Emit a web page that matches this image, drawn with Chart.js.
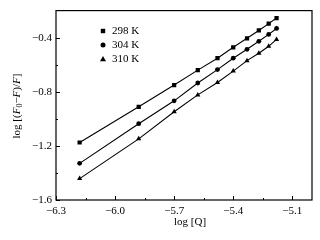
<!DOCTYPE html>
<html>
<head>
<meta charset="utf-8">
<script src="https://cdn.jsdelivr.net/npm/chart.js@4.4.0/dist/chart.umd.min.js"></script>
<style>
  html, body { margin: 0; padding: 0; background: #fff; }
  #wrap { width: 320px; height: 240px; }
</style>
</head>
<body>
<div id="wrap"><canvas id="c" width="320" height="240"></canvas></div>
<script>
// donnees
var logQ = [-6.18, -5.88, -5.70, -5.58, -5.48, -5.40, -5.33, -5.27, -5.22, -5.18];
var y298 = [-1.175, -0.911, -0.750, -0.640, -0.552, -0.471, -0.405, -0.347, -0.296, -0.255];
var y304 = [-1.329, -1.036, -0.867, -0.735, -0.636, -0.552, -0.486, -0.427, -0.376, -0.332];
var y310 = [-1.442, -1.148, -0.948, -0.823, -0.731, -0.647, -0.570, -0.515, -0.464, -0.413];
var seriesLabels = ["298 K", "304 K", "310 K"];
var xTicks = [-6.3, -6.0, -5.7, -5.4, -5.1];
var xMinor = [-6.15, -5.85, -5.55, -5.25];
var yTicks = [-1.6, -1.2, -0.8, -0.4];
var yMinor = [-1.4, -1.0, -0.6];

var police = '"Liberation Serif", "DejaVu Serif", serif';

function points(ys) {
  var res = [];
  for (var i = 0; i < logQ.length; i++) res.push({x: logQ[i], y: ys[i]});
  return res;
}

function moins(v) {
  return v.toFixed(1).replace("-", "\u2212");
}

function serie(label, ys, style, r) {
  return {
    label: label,
    data: points(ys),
    showLine: true,
    borderColor: "#000",
    backgroundColor: "#000",
    borderWidth: 1.1,
    pointStyle: style,
    pointRadius: r,
    pointBorderWidth: 0,
    tension: 0
  };
}

// cadre, graduations internes, legende et titres
var decor = {
  id: "decor",
  afterDraw: function(chart) {
    var ctx = chart.ctx;
    var a = chart.chartArea;
    var sx = chart.scales.x, sy = chart.scales.y;
    ctx.save();
    ctx.strokeStyle = "#000";
    ctx.lineWidth = 1.2;
    ctx.strokeRect(a.left, a.top, a.right - a.left, a.bottom - a.top);

    ctx.lineWidth = 1;
    ctx.beginPath();
    xTicks.forEach(function(v) {
      var p = Math.round(sx.getPixelForValue(v)) + 0.5;
      ctx.moveTo(p, a.bottom); ctx.lineTo(p, a.bottom - 4);
    });
    xMinor.forEach(function(v) {
      var p = Math.round(sx.getPixelForValue(v)) + 0.5;
      ctx.moveTo(p, a.bottom); ctx.lineTo(p, a.bottom - 2);
    });
    yTicks.forEach(function(v) {
      var p = Math.round(sy.getPixelForValue(v)) + 0.5;
      ctx.moveTo(a.left, p); ctx.lineTo(a.left + 4, p);
    });
    yMinor.forEach(function(v) {
      var p = Math.round(sy.getPixelForValue(v)) + 0.5;
      ctx.moveTo(a.left, p); ctx.lineTo(a.left + 2, p);
    });
    ctx.stroke();

    // legende
    ctx.fillStyle = "#000";
    ctx.font = "11px " + police;
    ctx.textBaseline = "middle";
    ctx.textAlign = "left";
    var lx = 103, ly = [31, 45, 59];
    // carre
    ctx.fillRect(lx - 2.2, ly[0] - 2.2, 4.4, 4.4);
    // rond
    ctx.beginPath(); ctx.arc(lx, ly[1], 2.5, 0, Math.PI * 2); ctx.fill();
    // triangle
    ctx.beginPath();
    ctx.moveTo(lx, ly[2] - 3); ctx.lineTo(lx + 3, ly[2] + 2.3); ctx.lineTo(lx - 3, ly[2] + 2.3);
    ctx.closePath(); ctx.fill();
    for (var i = 0; i < 3; i++) ctx.fillText(seriesLabels[i], lx + 9, ly[i]);

    // titre x
    ctx.textAlign = "center";
    ctx.font = "11px " + police;
    ctx.fillText("log [Q]", 190, 222);

    // titre y, avec F en italique et indice 0
    ctx.translate(17, 106);
    ctx.rotate(-Math.PI / 2);
    var morceaux = [
      ["log [(", "11px " + police, 0],
      ["F", "italic 11px " + police, 0],
      ["0", "8px " + police, 3],
      ["\u2212", "11px " + police, 0],
      ["F", "italic 11px " + police, 0],
      [")/", "11px " + police, 0],
      ["F", "italic 11px " + police, 0],
      ["]", "11px " + police, 0]
    ];
    var total = 0;
    morceaux.forEach(function(m) { ctx.font = m[1]; total += ctx.measureText(m[0]).width; });
    var x = -total / 2;
    ctx.textAlign = "left";
    morceaux.forEach(function(m) {
      ctx.font = m[1];
      ctx.fillText(m[0], x, m[2]);
      x += ctx.measureText(m[0]).width;
    });
    ctx.restore();
  }
};

new Chart(document.getElementById("c"), {
  type: "scatter",
  data: {
    datasets: [
      serie(seriesLabels[0], y298, "rect", 3),
      serie(seriesLabels[1], y304, "circle", 2.4),
      serie(seriesLabels[2], y310, "triangle", 3)
    ]
  },
  options: {
    responsive: false,
    animation: false,
    layout: { padding: { left: 0, right: 8, top: 9, bottom: 0 } },
    plugins: {
      legend: { display: false },
      tooltip: { enabled: false }
    },
    scales: {
      x: {
        type: "linear",
        min: -6.3,
        max: -5.0,
        afterBuildTicks: function(s) { s.ticks = xTicks.map(function(v) { return {value: v}; }); },
        afterFit: function(s) { s.height = 40; },
        grid: { display: false, drawTicks: false },
        border: { display: false },
        ticks: {
          color: "#000",
          padding: 5,
          maxRotation: 0,
          font: { family: police, size: 11 },
          callback: function(v) { return moins(v); }
        }
      },
      y: {
        type: "linear",
        min: -1.6,
        max: -0.2,
        afterBuildTicks: function(s) { s.ticks = yTicks.map(function(v) { return {value: v}; }); },
        afterFit: function(s) { s.width = 56; },
        grid: { display: false, drawTicks: false },
        border: { display: false },
        ticks: {
          color: "#000",
          padding: 4,
          font: { family: police, size: 11 },
          callback: function(v) { return moins(v); }
        }
      }
    }
  },
  plugins: [decor]
});
</script>
</body>
</html>
